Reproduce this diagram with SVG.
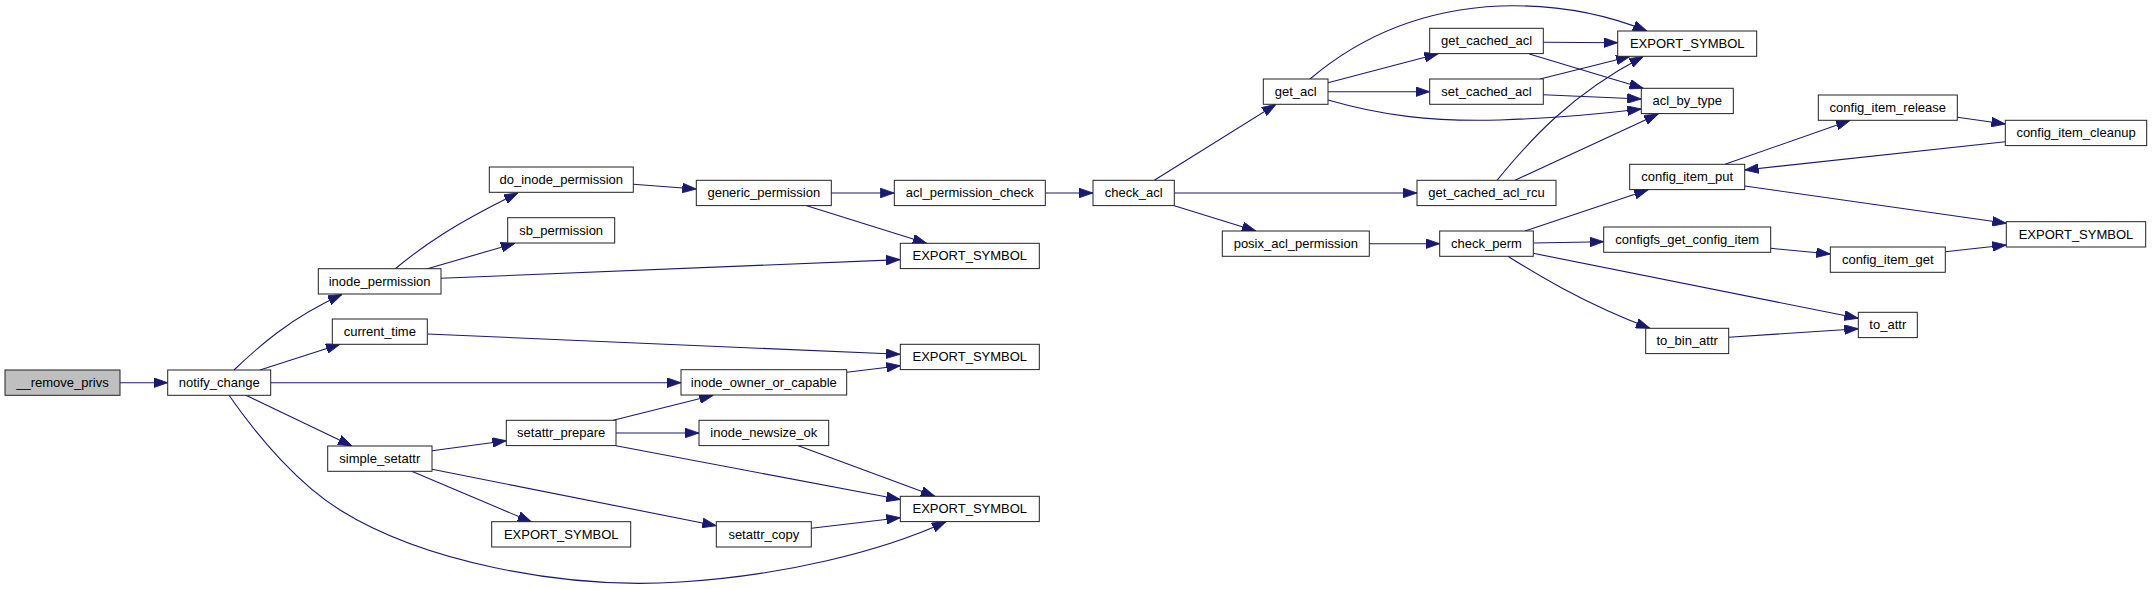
<svg xmlns="http://www.w3.org/2000/svg" width="2152" height="589" viewBox="0 0 2152 589">
<style>
.n rect{fill:#fff;stroke:#222;stroke-width:1}
.n.root rect{fill:#bfbfbf}
.n text{font-family:"Liberation Sans",Arial,sans-serif;font-size:13px;fill:#000;text-anchor:middle}
#edges path{fill:none;stroke:#191970;stroke-width:1.1;marker-end:url(#ah)}
</style>
<defs>
<marker id="ah" markerUnits="userSpaceOnUse" markerWidth="14" markerHeight="10" viewBox="0 0 13.5 9.4" refX="13.5" refY="4.7" orient="auto">
<path d="M0,0 L13.5,4.7 L0,9.4 z" fill="#191970" stroke="#191970" stroke-width="0.8"/>
</marker>
</defs>
<rect width="2152" height="589" fill="#fff"/>
<g id="edges">
<path d="M120,382.7 L167.7,382.7"/>
<path d="M234,370 C258,347 290,318 342,294.5"/>
<path d="M260,370 L340,344.3"/>
<path d="M270.7,382.7 L681,382.7"/>
<path d="M246,395.3 L352,446"/>
<path d="M229,395.3 C260,440 300,485 340,510 C420,560 560,590 680,582 C780,576 880,552 946,521.7"/>
<path d="M395,269 C425,244 455,224 518,193"/>
<path d="M426.5,269 L515,243.3"/>
<path d="M441,278.3 L900,259.6"/>
<path d="M427.3,334 L900,354.3"/>
<path d="M432,450.7 L506.3,440.7"/>
<path d="M411.7,471.3 L531.7,522"/>
<path d="M432,469.3 L716.3,525.7"/>
<path d="M613.3,420.3 L713.3,395.3"/>
<path d="M616,433 L699,433"/>
<path d="M616,445.7 L900.3,499.5"/>
<path d="M798.3,445.7 L935,496.3"/>
<path d="M811.3,528.3 L900.3,517.7"/>
<path d="M846.7,372.3 L900.3,365.7"/>
<path d="M633.3,184.3 L696.3,189"/>
<path d="M831.3,193 L894.3,193"/>
<path d="M806.7,205.7 L926.7,243.3"/>
<path d="M1045.3,193 L1093,193"/>
<path d="M1154.3,180.3 L1276,104.3"/>
<path d="M1174.3,193 L1417,193"/>
<path d="M1174.3,205.7 L1256,231"/>
<path d="M1369.3,243.7 L1439.7,243.7"/>
<path d="M1328,82.7 L1438.3,53.7"/>
<path d="M1328,91.7 L1429.7,91.7"/>
<path d="M1310,79 C1350,45 1410,10 1500,6 C1560,4 1610,16 1647,31"/>
<path d="M1328,100 C1380,115 1430,122 1500,120 C1560,118 1600,114 1641.3,109"/>
<path d="M1543.3,42.3 L1617.7,42.7"/>
<path d="M1529.3,54 L1643.3,88.3"/>
<path d="M1540,79 L1630,56.5"/>
<path d="M1543.3,94.7 L1641.3,99"/>
<path d="M1497,180.3 C1530,140 1570,95 1643.3,56.5"/>
<path d="M1515,180.3 L1658.3,114"/>
<path d="M1525,231 L1648.3,189.7"/>
<path d="M1533.3,243 L1603.7,241.7"/>
<path d="M1533.3,253.3 L1858.3,318.3"/>
<path d="M1508,256.3 C1530,270 1580,302 1650,328.3"/>
<path d="M1728.7,337.3 L1858.3,328.7"/>
<path d="M1770.7,248.3 L1830.3,254"/>
<path d="M1945.3,251.7 L2006.3,245"/>
<path d="M1725,164.3 L1850,120.5"/>
<path d="M1744.7,186 L2006.3,223.3"/>
<path d="M1957.3,117.3 L2005.3,124"/>
<path d="M2005.3,141.7 L1744.7,170"/>
</g>
<g id="n_remove_privs" class="n root"><rect x="5" y="370" width="115" height="25.3"/><text x="62.5" y="387">__remove_privs</text></g>
<g id="n_notify_change" class="n"><rect x="167.7" y="370" width="103" height="25.3"/><text x="219.2" y="387">notify_change</text></g>
<g id="n_inode_permission" class="n"><rect x="318.3" y="268.7" width="122.7" height="25.3"/><text x="379.6" y="285.7">inode_permission</text></g>
<g id="n_current_time" class="n"><rect x="332.3" y="319" width="95" height="25.3"/><text x="379.8" y="336">current_time</text></g>
<g id="n_simple_setattr" class="n"><rect x="327.7" y="446" width="104.3" height="25.3"/><text x="379.8" y="463">simple_setattr</text></g>
<g id="n_do_inode_permission" class="n"><rect x="489.3" y="167" width="144" height="25.3"/><text x="561.3" y="184">do_inode_permission</text></g>
<g id="n_sb_permission" class="n"><rect x="507.7" y="217.7" width="107" height="25.3"/><text x="561.2" y="234.7">sb_permission</text></g>
<g id="n_setattr_prepare" class="n"><rect x="506.3" y="420.3" width="109.7" height="25.3"/><text x="561.2" y="437.3">setattr_prepare</text></g>
<g id="n_export_symbol_1" class="n"><rect x="491.7" y="521.7" width="139" height="25.3"/><text x="561.2" y="538.7">EXPORT_SYMBOL</text></g>
<g id="n_generic_permission" class="n"><rect x="696.3" y="180.3" width="135" height="25.3"/><text x="763.8" y="197.3">generic_permission</text></g>
<g id="n_inode_owner_or_capable" class="n"><rect x="681" y="369.7" width="165.7" height="25.3"/><text x="763.8" y="386.7">inode_owner_or_capable</text></g>
<g id="n_inode_newsize_ok" class="n"><rect x="699" y="420.3" width="129.7" height="25.3"/><text x="763.8" y="437.3">inode_newsize_ok</text></g>
<g id="n_setattr_copy" class="n"><rect x="716.3" y="521.7" width="95" height="25.3"/><text x="763.8" y="538.7">setattr_copy</text></g>
<g id="n_acl_permission_check" class="n"><rect x="894.3" y="180.3" width="151" height="25.3"/><text x="969.8" y="197.3">acl_permission_check</text></g>
<g id="n_export_symbol_2" class="n"><rect x="900.3" y="243.3" width="139" height="25.3"/><text x="969.8" y="260.3">EXPORT_SYMBOL</text></g>
<g id="n_export_symbol_3" class="n"><rect x="900.3" y="344.3" width="139" height="25.3"/><text x="969.8" y="361.3">EXPORT_SYMBOL</text></g>
<g id="n_export_symbol_4" class="n"><rect x="900.3" y="496.3" width="139" height="25.3"/><text x="969.8" y="513.3">EXPORT_SYMBOL</text></g>
<g id="n_check_acl" class="n"><rect x="1093" y="180.3" width="81.3" height="25.3"/><text x="1133.7" y="197.3">check_acl</text></g>
<g id="n_get_acl" class="n"><rect x="1263.3" y="79" width="64.7" height="25.3"/><text x="1295.7" y="96">get_acl</text></g>
<g id="n_posix_acl_permission" class="n"><rect x="1222.3" y="231" width="147" height="25.3"/><text x="1295.8" y="248">posix_acl_permission</text></g>
<g id="n_get_cached_acl" class="n"><rect x="1429.7" y="28.3" width="113.6" height="25.3"/><text x="1486.5" y="45.3">get_cached_acl</text></g>
<g id="n_set_cached_acl" class="n"><rect x="1429.7" y="79" width="113.6" height="25.3"/><text x="1486.5" y="96">set_cached_acl</text></g>
<g id="n_get_cached_acl_rcu" class="n"><rect x="1417" y="180.3" width="139" height="25.3"/><text x="1486.5" y="197.3">get_cached_acl_rcu</text></g>
<g id="n_check_perm" class="n"><rect x="1439.7" y="231" width="93.6" height="25.3"/><text x="1486.5" y="248">check_perm</text></g>
<g id="n_export_symbol_5" class="n"><rect x="1617.7" y="31" width="139" height="25.3"/><text x="1687.2" y="48">EXPORT_SYMBOL</text></g>
<g id="n_acl_by_type" class="n"><rect x="1641.3" y="88.3" width="92" height="25.3"/><text x="1687.3" y="105.3">acl_by_type</text></g>
<g id="n_config_item_put" class="n"><rect x="1629.7" y="164.3" width="115" height="25.3"/><text x="1687.2" y="181.3">config_item_put</text></g>
<g id="n_configfs_get_config_item" class="n"><rect x="1603.7" y="227" width="167" height="25.3"/><text x="1687.2" y="244">configfs_get_config_item</text></g>
<g id="n_to_bin_attr" class="n"><rect x="1645.7" y="328.3" width="83" height="25.3"/><text x="1687.2" y="345.3">to_bin_attr</text></g>
<g id="n_config_item_release" class="n"><rect x="1818.3" y="95" width="139" height="25.3"/><text x="1887.8" y="112">config_item_release</text></g>
<g id="n_config_item_get" class="n"><rect x="1830.3" y="247" width="115" height="25.3"/><text x="1887.8" y="264">config_item_get</text></g>
<g id="n_to_attr" class="n"><rect x="1858.3" y="312.3" width="59" height="25.3"/><text x="1887.8" y="329.3">to_attr</text></g>
<g id="n_config_item_cleanup" class="n"><rect x="2005.3" y="120.3" width="141.4" height="25.3"/><text x="2076" y="137.3">config_item_cleanup</text></g>
<g id="n_export_symbol_6" class="n"><rect x="2006.3" y="221.7" width="139.4" height="25.3"/><text x="2076" y="238.7">EXPORT_SYMBOL</text></g>
</svg>
